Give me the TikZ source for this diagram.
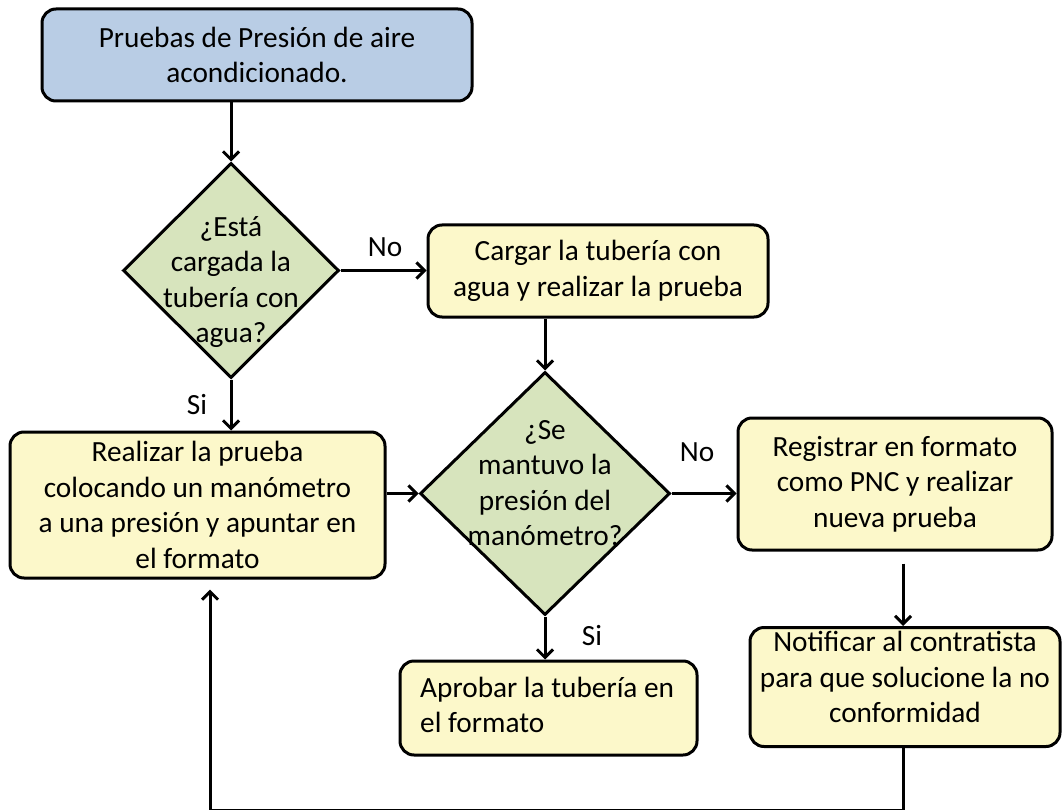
\documentclass[tikz,border=0pt]{standalone}
\usepackage{fontspec}
\setmainfont{Carlito}
\usetikzlibrary{shapes.geometric,arrows.meta}
\definecolor{startblue}{HTML}{B9CDE5}
\definecolor{decgreen}{HTML}{D7E4BD}
\definecolor{stepyellow}{HTML}{FCF8CA}
\begin{document}
\begin{tikzpicture}[x=1pt,y=-1pt,
  every node/.style={font=\fontsize{29.3}{35.5}\selectfont},
  boxbase/.style={draw=black, line width=3pt, rounded corners=14pt, inner sep=0pt, align=center},
  startbox/.style={boxbase, fill=startblue},
  procbox/.style={boxbase, fill=stepyellow},
  decision/.style={diamond, draw=black, line width=3pt, fill=decgreen, inner sep=0pt, aspect=1},
  txt/.style={align=center, inner sep=0pt},
  arr/.style={line width=3pt, -{Straight Barb[length=8pt,width=16pt]}}]
\useasboundingbox (0,0) rectangle (1062,810);

% process boxes
\node[startbox, minimum width=430pt, minimum height=92pt] (start) at (257,55)
  {Pruebas de Presión de aire\\acondicionado.};
\node[procbox, minimum width=340pt, minimum height=92pt] (cargar) at (598,271)
  {Cargar la tubería con\\agua y realizar la prueba};
\node[procbox, minimum width=375pt, minimum height=146pt] (realizar) at (197.5,505) {};
\node[txt] at (197.5,505) {Realizar la prueba\\colocando un manómetro\\a una presión y apuntar en\\el formato};
\node[procbox, minimum width=314pt, minimum height=132pt] (registrar) at (895,484)
  {Registrar en formato\\como PNC y realizar\\nueva prueba};
\node[procbox, minimum width=310pt, minimum height=119pt] (notificar) at (905,687) {};
\node[txt] at (905,677) {Notificar al contratista\\para que solucione la no\\conformidad};
\node[procbox, minimum width=297pt, minimum height=94pt] (aprobar) at (548.5,708) {};
\node[txt, align=left, anchor=west] at (420,705) {Aprobar la tubería en\\el formato};

% decisions
\node[decision, minimum width=216pt, minimum height=215pt] (d1) at (231,270.5) {};
\node[txt] at (231,282) {¿Está\\cargada la\\tubería con\\agua?};
\node[decision, minimum width=250pt, minimum height=243pt] (d2) at (545,493.5) {};
\node[txt] at (545,483) {¿Se\\mantuvo la\\presión del\\manómetro?};

% connectors
\draw[arr] (d1.north |- start.south) -- (d1.north);
\draw[arr] (d1.east) -- (cargar.west |- d1.east);
\node[txt] at (385,247) {No};
\draw[arr] (d2.north |- cargar.south) -- (d2.north);
\draw[arr] (d1.south) -- (d1.south |- realizar.north);
\node[txt] at (197,405) {Si};
\draw[arr] (realizar.east |- d2.west) -- (d2.west);
\draw[arr] (d2.east) -- (registrar.west |- d2.east);
\node[txt] at (697,452) {No};
\draw[arr] (d2.south) -- (d2.south |- aprobar.north);
\node[txt] at (592,636) {Si};
\draw[arr, shorten <=12pt] ([xshift=8pt]registrar.south) -- ([xshift=-2pt]notificar.north);

% return loop, its lower run lying on the bottom edge
\coordinate (loopR) at (903,810.6);
\coordinate (loopL) at (210,810.6);
\draw[arr, shorten >=10pt] ([xshift=-2pt]notificar.south) -- (loopR) -- (loopL) -- (loopL |- realizar.south);
\end{tikzpicture}
\end{document}
